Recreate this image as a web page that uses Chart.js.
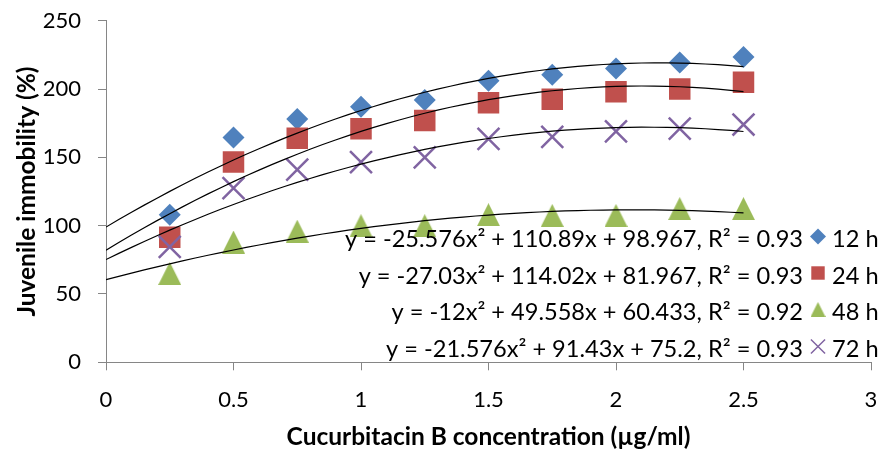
<!DOCTYPE html>
<html>
<head>
<meta charset="utf-8">
<script src="https://cdn.jsdelivr.net/npm/chart.js@4.4.0/dist/chart.umd.min.js"></script>
<style>
  html, body { margin: 0; padding: 0; background: #ffffff; }
  #wrap { width: 881px; height: 454px; }
</style>
</head>
<body>
<div id="wrap"><canvas id="chart" width="881" height="454"></canvas></div>
<script>
// Concentrations tested (µg/ml)
const concentrations = [0.25, 0.5, 0.75, 1.0, 1.25, 1.5, 1.75, 2.0, 2.25, 2.5];

// Juvenile immobility (%) at each exposure time
const immobility12h = [108, 164.5, 178, 187, 192, 206, 210.5, 215, 219.5, 223.5];
const immobility24h = [91.5, 146.5, 164, 171, 177, 190, 192.5, 198, 200, 205];
const immobility48h = [65, 88, 96, 100, 100, 108, 107.5, 107.5, 112.5, 112.5];
const immobility72h = [84.5, 127.5, 141, 146.5, 150, 163.5, 165, 169, 171, 174];

const seriesNames = ['12 h', '24 h', '48 h', '72 h'];

// Quadratic trend lines: y = a·x² + b·x + c
const quadA = [-25.576, -27.03, -12, -21.576];
const quadB = [110.89, 114.02, 49.558, 91.43];
const quadC = [98.967, 81.967, 60.433, 75.2];
const rSquared = ['0.93', '0.93', '0.92', '0.93'];
const trendRange = [0, 2.5];

// Axis tick labels
const xTickLabels = ['0', '0.5', '1', '1.5', '2', '2.5', '3'];
const yTickLabels = ['0', '50', '100', '150', '200', '250'];

const FONT = 'Lato';
const colors = ['#4F81BD', '#C0504D', '#9BBB59', '#8064A2'];

// Upright triangle marker whose box is centred on the data point
function triangleMarker(size, color) {
  const c = document.createElement('canvas');
  c.width = size; c.height = size;
  const g = c.getContext('2d');
  g.fillStyle = color;
  g.beginPath();
  g.moveTo(size / 2, 0);
  g.lineTo(size, size);
  g.lineTo(0, size);
  g.closePath();
  g.fill();
  return c;
}

const seriesValues = [immobility12h, immobility24h, immobility48h, immobility72h];
const pointStyles = ['rectRot', 'rect', triangleMarker(23, colors[2]), 'crossRot'];
const pointRadii = [11, 15.2, 12, 15.5];
const legendStyles = ['rectRot', 'rect', triangleMarker(15, colors[2]), 'crossRot'];
const legendRadii = [8, 9.5, 8, 10];

function trendPoints(i) {
  const pts = [];
  const steps = 50;
  for (let k = 0; k <= steps; k++) {
    const x = trendRange[0] + (trendRange[1] - trendRange[0]) * k / steps;
    pts.push({ x: x, y: quadA[i] * x * x + quadB[i] * x + quadC[i] });
  }
  return pts;
}

function equationText(i) {
  return 'y = ' + quadA[i] + 'x\u00B2 + ' + quadB[i] + 'x + ' + quadC[i] + ', R\u00B2 = ' + rSquared[i];
}

const datasets = [];
seriesValues.forEach((vals, i) => {
  datasets.push({
    type: 'scatter',
    label: seriesNames[i],
    data: concentrations.map((x, k) => ({ x: x, y: vals[k] })),
    pointStyle: pointStyles[i],
    pointRadius: pointRadii[i],
    pointHoverRadius: pointRadii[i],
    backgroundColor: colors[i],
    borderColor: colors[i],
    borderWidth: i === 3 ? 2.5 : 0,
    order: 4 - i
  });
});
seriesValues.forEach((vals, i) => {
  datasets.push({
    type: 'line',
    label: seriesNames[i] + ' trend',
    data: trendPoints(i),
    borderColor: '#000000',
    borderWidth: 1.2,
    pointRadius: 0,
    fill: false,
    tension: 0,
    order: 0
  });
});

// Trend-line equations with the series key beside each one
const equationLegend = {
  id: 'equationLegend',
  afterDatasetsDraw(chart) {
    const ctx = chart.ctx;
    const textRight = 803;
    const markerX = 818;
    const labelLeft = 832;
    const rows = [239.5, 276, 312.5, 349.5];
    ctx.save();
    ctx.font = '23.6px ' + FONT;
    ctx.textBaseline = 'middle';
    seriesNames.forEach((name, i) => {
      ctx.fillStyle = '#000000';
      ctx.textAlign = 'right';
      ctx.fillText(equationText(i), textRight, rows[i]);
      ctx.textAlign = 'left';
      ctx.fillText(name, labelLeft, rows[i]);
      ctx.fillStyle = colors[i];
      ctx.strokeStyle = colors[i];
      ctx.lineWidth = i === 3 ? 1.5 : 0;
      ctx.beginPath();
      Chart.helpers.drawPoint(ctx, {
        pointStyle: legendStyles[i],
        radius: legendRadii[i],
        borderWidth: i === 3 ? 1.5 : 0,
        rotation: 0
      }, markerX, rows[i] - 3);
    });
    ctx.restore();
  }
};

new Chart(document.getElementById('chart'), {
  data: { datasets: datasets },
  options: {
    responsive: false,
    animation: false,
    events: [],
    layout: { autoPadding: false, padding: { top: 20.7, right: 10, left: 0, bottom: 0 } },
    plugins: { legend: { display: false }, tooltip: { enabled: false } },
    scales: {
      x: {
        type: 'linear',
        min: 0, max: 3,
        afterFit(scale) {
          scale.height = 91.7;
          scale.paddingLeft = 0;
          scale.paddingRight = 0;
        },
        afterBuildTicks(scale) {
          scale.ticks = xTickLabels.map(t => ({ value: parseFloat(t) }));
        },
        ticks: {
          callback: (v, idx) => xTickLabels[idx],
          font: { family: FONT, size: 22 },
          color: '#000000',
          padding: 16,
          maxRotation: 0,
          autoSkip: false
        },
        grid: { drawOnChartArea: false, drawTicks: true, tickLength: 8, color: '#868686', tickColor: '#868686' },
        border: { color: '#868686', width: 1 },
        title: {
          display: true,
          text: 'Cucurbitacin B concentration (\u00B5g/ml)',
          font: { family: FONT, size: 24.5, weight: 'bold' },
          color: '#000000',
          padding: { top: 0, bottom: 2 }
        }
      },
      y: {
        type: 'linear',
        min: 0, max: 250,
        afterFit(scale) {
          scale.width = 106;
          scale.paddingTop = 0;
          scale.paddingBottom = 0;
        },
        afterBuildTicks(scale) {
          scale.ticks = yTickLabels.map(t => ({ value: parseFloat(t) }));
        },
        ticks: {
          callback: (v, idx) => yTickLabels[idx],
          font: { family: FONT, size: 22 },
          color: '#000000',
          padding: 17
        },
        grid: { drawOnChartArea: false, drawTicks: true, tickLength: 8, color: '#868686', tickColor: '#868686' },
        border: { color: '#868686', width: 1 },
        title: {
          display: true,
          text: 'Juvenile immobility (%)',
          font: { family: FONT, size: 24.5, weight: 'bold' },
          color: '#000000',
          padding: { top: 12, bottom: 0 }
        }
      }
    }
  },
  plugins: [equationLegend]
});
</script>
</body>
</html>
